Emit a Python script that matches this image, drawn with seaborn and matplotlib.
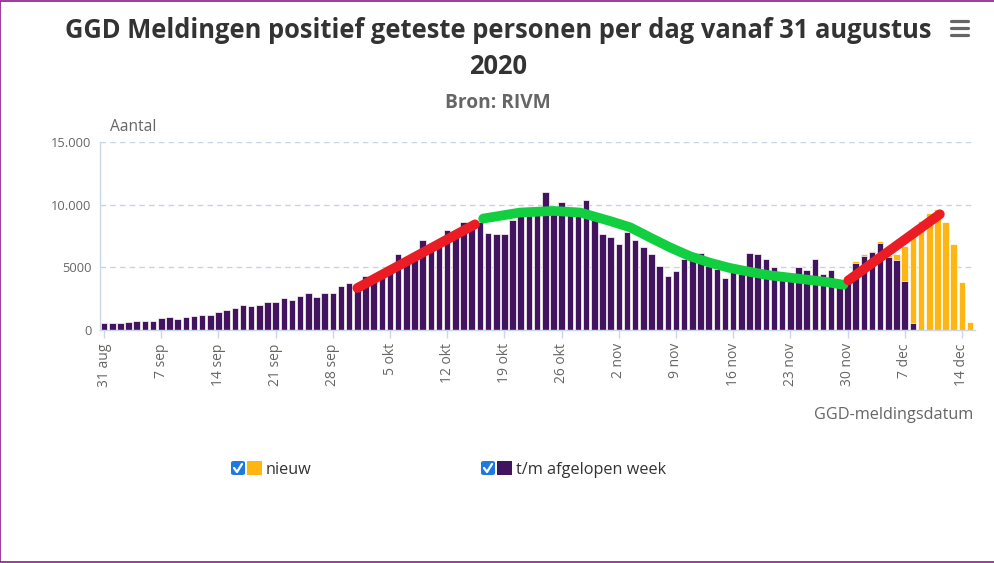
import numpy as np
import pandas as pd
import matplotlib
matplotlib.use("Agg")
import matplotlib.pyplot as plt
import seaborn as sns
from matplotlib.patches import Rectangle, FancyBboxPatch
from matplotlib.lines import Line2D

# ---------------- data ----------------
week_vals = [540, 540, 540, 620, 720, 720, 720, 940, 1020, 910,
             1020, 1130, 1210, 1210, 1420, 1610, 1740, 2010, 1930, 2010,
             2220, 2220, 2520, 2410, 2730, 2920, 2630, 2920, 2920, 3540,
             3750, 3300, 4340, 4200, 4500, 4900, 6030, 5300, 5600, 7150,
             6400, 6700, 7960, 7500, 8580, 8300, 8600, 7770, 7640, 7640,
             8750, 9730, 9650, 9200, 11040, 9300, 10240, 9300, 9300, 10340,
             8750, 7640, 7440, 6830, 7800, 7150, 6650, 6030, 5100, 4340,
             4740, 5700, 6160, 6160, 5100, 4900, 4150, 4600, 4500, 6160,
             6030, 5630, 5010, 4150, 4000, 5010, 4820, 5630, 4500, 4820,
             3700, 4230, 5360, 5920, 6240, 6970, 5800, 5550, 3940, 536,
             0, 0, 0, 0, 0, 0, 0]
new_vals = [0] * 92 + [110, 110, 60, 105, 150, 480, 2760, 7160,
                       8700, 9330, 9650, 8580, 6830, 3830, 620]

tick_days = list(range(0, 106, 7))
tick_labels = ["31 aug", "7 sep", "14 sep", "21 sep", "28 sep", "5 okt",
               "12 okt", "19 okt", "26 okt", "2 nov", "9 nov", "16 nov",
               "23 nov", "30 nov", "7 dec", "14 dec"]
y_ticks = [0, 5000, 10000, 15000]
y_tick_labels = ["0", "5000", "10.000", "15.000"]

red1_x = [31.0, 45.4]
red1_y = [3350, 8430]
green_x = [46.4, 50.9, 55.0, 58.3, 61.9, 64.4, 66.8, 69.3, 71.7, 74.2,
           76.6, 79.1, 81.5, 84.3, 88.4, 90.5]
green_y = [8890, 9370, 9500, 9370, 8700, 8190, 7390, 6580, 5890, 5360,
           4950, 4630, 4360, 4150, 3830, 3610]
red2_x = [91.1, 102.3]
red2_y = [3960, 9235]

PURPLE = "#42145f"
ORANGE = "#ffb612"
RED = "#ec1c24"
GREEN = "#12cf40"
GRAY = "#666666"
AXIS = "#ccd6eb"

# ---------------- figure ----------------
sns.set_theme(style="white")
plt.rcParams["font.family"] = ["Open Sans", "DejaVu Sans"]

W, H = 995, 563
fig = plt.figure(figsize=(W / 100, H / 100), dpi=100)

def fx(px):
    return px / W

def fy(py):
    return 1 - py / H

ax = fig.add_axes([fx(100), fy(330), fx(975) - fx(100), fy(142) - fy(330)])

days = np.arange(len(week_vals))
df = pd.DataFrame({
    "dag": days,
    "totaal": np.array(week_vals) + np.array(new_vals),
    "week": week_vals,
})

sns.barplot(data=df, x="dag", y="totaal", color=ORANGE, saturation=1,
            width=0.8, edgecolor="white", linewidth=0.5, ax=ax, zorder=2)
sns.barplot(data=df, x="dag", y="week", color=PURPLE, saturation=1,
            width=0.8, edgecolor="white", linewidth=0.5, ax=ax, zorder=2)

for xs, ys, c in [(red1_x, red1_y, RED), (green_x, green_y, GREEN), (red2_x, red2_y, RED)]:
    sns.lineplot(x=xs, y=ys, color=c, lw=7, sort=False, ax=ax, zorder=5,
                 solid_capstyle="round", solid_joinstyle="round")

ax.set_xlim(-0.5, 106.6)
ax.set_ylim(0, 15000)
ax.set_xlabel("")
ax.set_ylabel("")

ax.set_yticks(y_ticks)
ax.set_yticklabels(y_tick_labels, color=GRAY, fontsize=9.3)
ax.yaxis.grid(True, color="#c8d3e2", linestyle=(0, (4, 3)), linewidth=1, zorder=0)
ax.xaxis.grid(False)
ax.set_axisbelow(True)

ax.set_xticks(tick_days)
ax.set_xticklabels(tick_labels, rotation=90, ha="center", va="top",
                   color=GRAY, fontsize=10)
ax.tick_params(axis="x", length=5.5, width=1, color=AXIS, pad=4, bottom=True)
ax.tick_params(axis="y", length=0, pad=6)

for s in ["top", "right"]:
    ax.spines[s].set_visible(False)
ax.spines["left"].set_color(AXIS)
ax.spines["bottom"].set_color(AXIS)
ax.spines["left"].set_linewidth(1)
ax.spines["bottom"].set_linewidth(1)
ax.legend_ = None

# ---------------- texts ----------------
fig.text(fx(498), fy(38), "GGD Meldingen positief geteste personen per dag vanaf 31 augustus",
         ha="center", va="baseline", fontsize=18.4, weight="bold", color="#333333")
fig.text(fx(498), fy(74), "2020", ha="center", va="baseline", fontsize=18.4,
         weight="bold", color="#333333")
fig.text(fx(498), fy(108), "Bron: RIVM", ha="center", va="baseline", fontsize=13.8,
         weight="bold", color=GRAY)
fig.text(fx(110), fy(131), "Aantal", ha="left", va="baseline", fontsize=11.2, color=GRAY)
fig.text(fx(973), fy(419), "GGD-meldingsdatum", ha="right", va="baseline",
         fontsize=11.7, color=GRAY)

# hamburger menu
for yy in [21, 28, 35]:
    fig.add_artist(Line2D([fx(951), fx(968)], [fy(yy), fy(yy)], color=GRAY,
                          lw=2.3, solid_capstyle="round"))

# legend
def legend_item(x0, color, label):
    cb = FancyBboxPatch((fx(x0), fy(475)), fx(14), fy(461) - fy(475),
                        boxstyle="round,pad=0,rounding_size=0.003",
                        facecolor="#1f7ae0", edgecolor="none",
                        transform=fig.transFigure)
    fig.add_artist(cb)
    fig.add_artist(Line2D([fx(x0 + 3), fx(x0 + 6), fx(x0 + 11)],
                          [fy(468), fy(472), fy(464)], color="white", lw=1.6,
                          solid_capstyle="round", solid_joinstyle="round"))
    fig.add_artist(Rectangle((fx(x0 + 16), fy(475)), fx(15), fy(461) - fy(475),
                             facecolor=color, edgecolor="none",
                             transform=fig.transFigure))
    fig.text(fx(x0 + 35), fy(474), label, ha="left", va="baseline",
             fontsize=11.7, color="#333333")

legend_item(231, ORANGE, "nieuw")
legend_item(481, PURPLE, "t/m afgelopen week")

# border
fig.add_artist(Rectangle((0.0005, 0.001), 0.999, 0.998, fill=False,
                         edgecolor="#8b1a8b", lw=1.2, transform=fig.transFigure))

fig.savefig("out.png", dpi=100)
